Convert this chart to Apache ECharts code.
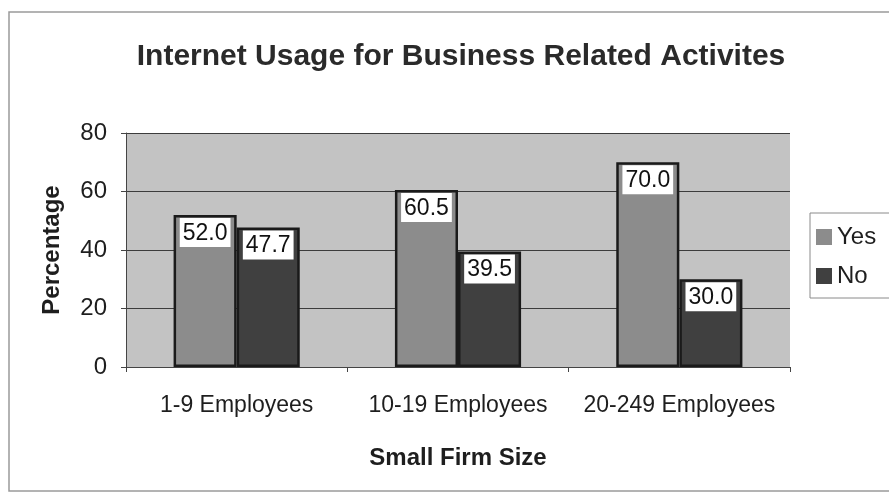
<!DOCTYPE html>
<html>
<head>
<meta charset="utf-8">
<style>
  html, body { margin: 0; padding: 0; background: #ffffff; }
  #chart { width: 889px; height: 494px; }
</style>
<script src="https://cdn.jsdelivr.net/npm/echarts@6/dist/echarts.min.js"></script>
</head>
<body>
<div id="chart"></div>
<script>
// Share of small firms using the internet for business activities
const categories = ['1-9 Employees', '10-19 Employees', '20-249 Employees'];
const yesValues = [52.0, 60.5, 70.0];
const noValues = [47.7, 39.5, 30.0];
const yTicks = [0, 20, 40, 60, 80];

const FONT = '"Liberation Sans", Arial, sans-serif';
const TEXT = '#1e1e1e';

const chart = echarts.init(document.getElementById('chart'), null, { renderer: 'canvas' });

const valueLabel = {
  show: true,
  position: 'insideTop',
  distance: 3,
  formatter: p => p.value.toFixed(1),
  color: '#111',
  fontFamily: FONT,
  fontSize: 23,
  backgroundColor: '#ffffff',
  padding: [4, 3, 2, 3]
};

chart.setOption({
  animation: false,
  backgroundColor: '#ffffff',
  title: {
    text: 'Internet Usage for Business Related Activites',
    left: 456,
    textAlign: 'center',
    top: 37,
    textStyle: { fontFamily: FONT, fontSize: 30, fontWeight: 'bold', color: '#2a2a2a' }
  },
  graphic: [{
    type: 'rect',
    shape: { x: 9, y: 12, width: 900, height: 479 },
    style: { fill: 'none', stroke: '#9a9a9a', lineWidth: 1.5 },
    silent: true,
    z: -1
  }],
  legend: {
    orient: 'vertical',
    left: 810,
    top: 213,
    padding: [12, 40, 10, 6],
    itemGap: 15,
    itemWidth: 16,
    itemHeight: 16,
    borderColor: '#8a8a8a',
    borderWidth: 1,
    backgroundColor: '#ffffff',
    icon: 'rect',
    itemStyle: { borderWidth: 0 },
    textStyle: { fontFamily: FONT, fontSize: 24, color: TEXT, padding: [0, 0, 0, 0] },
    data: ['Yes', 'No']
  },
  grid: { left: 126, right: 99, top: 133, bottom: 127 },
  xAxis: {
    type: 'category',
    data: categories,
    name: 'Small Firm Size',
    nameLocation: 'middle',
    nameGap: 79,
    nameTextStyle: { fontFamily: FONT, fontSize: 24, fontWeight: 'bold', color: TEXT },
    axisLine: { lineStyle: { color: '#444', width: 1 } },
    axisTick: { show: true, length: 5, lineStyle: { color: '#444' } },
    axisLabel: { interval: 0, hideOverlap: false, fontFamily: FONT, fontSize: 23, color: TEXT, margin: 27 }
  },
  yAxis: {
    type: 'value',
    min: yTicks[0],
    max: yTicks[yTicks.length - 1],
    interval: 20,
    name: 'Percentage',
    nameLocation: 'middle',
    nameGap: 62,
    nameTextStyle: { fontFamily: FONT, fontSize: 24, fontWeight: 'bold', color: TEXT },
    axisLine: { show: true, lineStyle: { color: '#444', width: 1 } },
    axisTick: { show: true, length: 5, lineStyle: { color: '#444' } },
    axisLabel: { fontFamily: FONT, fontSize: 24, color: TEXT, margin: 19 },
    splitLine: { show: true, lineStyle: { color: '#3c3c3c', width: 1 } },
    splitArea: { show: true, areaStyle: { color: ['#c3c3c3', '#c3c3c3'] } }
  },
  series: [
    {
      name: 'Yes',
      type: 'bar',
      data: yesValues,
      barGap: '0%',
      barCategoryGap: '43%',
      itemStyle: { color: '#8c8c8c', borderColor: '#1a1a1a', borderWidth: 2.5 },
      label: valueLabel
    },
    {
      name: 'No',
      type: 'bar',
      data: noValues,
      itemStyle: { color: '#404040', borderColor: '#1a1a1a', borderWidth: 2.5 },
      label: valueLabel
    }
  ]
});
</script>
</body>
</html>
